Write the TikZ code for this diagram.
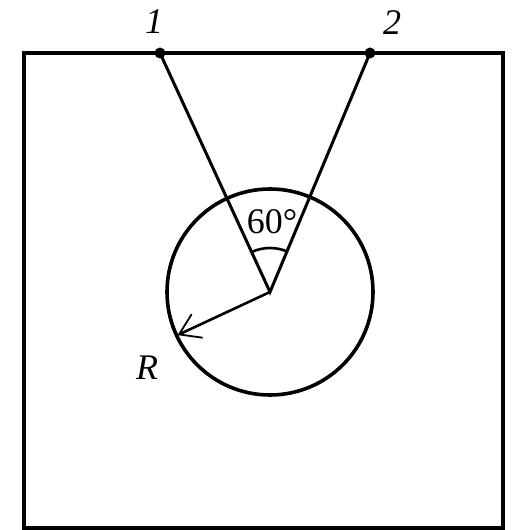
\documentclass[tikz,border=0pt]{standalone}
\usepackage{fontspec}
\setmainfont{Liberation Serif}
\usetikzlibrary{arrows.meta,angles,calc}
\tikzset{
    cone figure/.style = {x=1pt, y=1pt},
    frame/.style       = {line width=3.6pt},
    ray/.style         = {line width=3pt},
    pole/.style        = {circle, fill, inner sep=0pt, minimum size=11pt},
    bore/.style        = {circle, draw, line width=3.6pt, inner sep=0pt,
                          minimum size=206pt},
    radius arrow/.style = {line width=2.6pt,
                          -{Straight Barb[length=20pt, width=26pt, line width=1.8pt]}},
    big/.style         = {font=\fontsize{36}{40}\selectfont},
    tag/.style         = {big, font=\fontsize{36}{40}\selectfont\itshape}
}

\begin{document}
\begin{tikzpicture}[cone figure]
\useasboundingbox (0,0) rectangle (516,530);

% ================= Block outline =================
\draw[frame] (24,2) rectangle (503,477);

% ================= Points on the top face =================
\node[pole] (p1) at (160,477) {};
\node[pole] (p2) at (370,477) {};
\node[tag] (lab1) at (154,508) {1};
\node[tag] (lab2) at (392,507) {2};

% ================= Circular hole =================
\coordinate (O) at (270,238);
\node[bore] (hole) at (O) {};

% ================= Rays and cone angle =================
\draw[ray] (p1.center) -- (O) -- (p2.center);
\pic[draw, line width=2.6pt, angle radius=44pt] {angle = p2--O--p1};
\node[big] (alpha) at (272,308) {60°};

% ================= Radius =================
\coordinate (rtip) at ($(O)+(205:102)$);
\draw[radius arrow] (O) -- (rtip);
\node[tag] (labR) at (147,162) {R};

\end{tikzpicture}
\end{document}
